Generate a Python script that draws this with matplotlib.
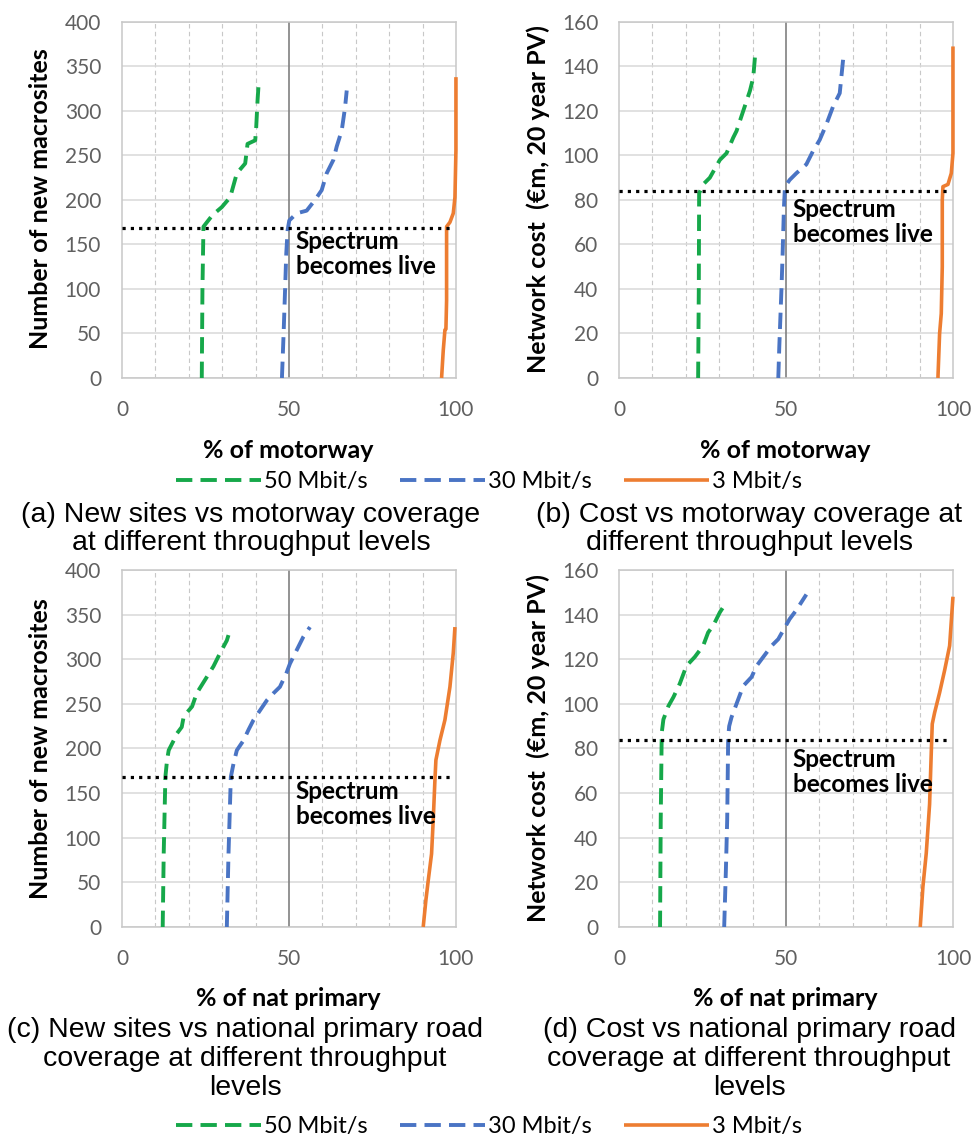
import matplotlib
matplotlib.use('Agg')
import matplotlib.pyplot as plt
from matplotlib.lines import Line2D

plt.rcParams['font.family'] = ['Lato', 'DejaVu Sans']

# (a) new macrosites vs % of motorway
a_50_x = [23.9, 24.1, 24.4, 27.1, 29.9, 32.4, 34.4, 36.9, 37.6, 39.9, 40.2, 40.6, 40.9]
a_50_y = [0, 100, 170, 183, 192, 203, 230, 241, 263, 267, 282, 312, 329]
a_30_x = [47.9, 48.4, 48.9, 49.2, 49.6, 50.1, 52.3, 55.3, 57.8, 59.8, 61.3, 63.3, 64.3, 65.8, 66.8, 67.3]
a_30_y = [0, 50, 106, 140, 166, 177, 185, 188, 200, 211, 230, 245, 260, 278, 304, 323]
a_3_x = [95.7, 96.2, 96.7, 97.0, 97.2, 97.2, 98.2, 99.2, 99.7, 100, 100]
a_3_y = [0, 31, 54, 55, 87, 170, 175, 185, 203, 256, 338]

# (b) network cost vs % of motorway
b_50_x = [23.7, 23.9, 24.0, 25.2, 27.2, 30.2, 32.2, 34.2, 35.2, 37.2, 39.2, 40.2, 40.7]
b_50_y = [0, 40, 83, 87, 90, 98, 101, 108, 111, 120, 129, 135, 144]
b_30_x = [47.7, 48.0, 48.7, 49.0, 49.4, 49.7, 51.1, 53.1, 56.1, 58.1, 60.1, 62.1, 64.1, 66.1, 66.9, 67.1]
b_30_y = [0, 14, 42, 56, 77, 86, 89, 92, 96, 102, 107, 114, 122, 128, 140, 143]
b_3_x = [95.5, 96.0, 96.5, 96.8, 96.8, 97.0, 98.5, 99.5, 100, 100]
b_3_y = [0, 20, 29, 50, 80, 86, 87, 92, 101, 149]

# (c) new macrosites vs % of national primary roads
c_50_x = [12.2, 12.5, 13.0, 13.5, 14.0, 15.5, 16.5, 17.9, 18.5, 21.0, 22.4, 24.9, 27.4, 29.4, 31.4, 31.9]
c_50_y = [0, 82, 168, 187, 198, 209, 217, 224, 236, 247, 262, 277, 292, 307, 321, 327]
c_30_x = [31.4, 31.9, 32.6, 33.4, 34.4, 36.4, 37.9, 39.4, 41.4, 43.4, 45.4, 47.3, 49.2, 50.3, 52.3, 54.3, 56.3]
c_30_y = [0, 82, 168, 183, 198, 209, 221, 232, 243, 254, 262, 269, 284, 295, 310, 325, 336]
c_3_x = [90.2, 91.0, 91.7, 92.7, 93.2, 93.7, 94.0, 95.2, 96.7, 98.2, 99.2, 99.7]
c_3_y = [0, 30, 52, 82, 120, 164, 187, 209, 232, 269, 307, 336]

# (d) network cost vs % of national primary roads
d_50_x = [12.3, 12.5, 12.8, 13.3, 14.8, 16.3, 18.2, 20.2, 22.7, 25.2, 26.7, 28.2, 30.2, 31.5]
d_50_y = [0, 48, 87, 93, 99, 103, 109, 117, 121, 126, 132, 135, 141, 144]
d_30_x = [31.5, 32.0, 32.4, 32.7, 33.0, 33.7, 35.2, 37.2, 39.7, 41.2, 43.2, 45.7, 47.7, 49.2, 51.1, 53.1, 56.1]
d_30_y = [0, 25, 48, 85, 90, 94, 100, 108, 112, 117, 121, 126, 129, 133, 138, 142, 149]
d_3_x = [90.2, 91.0, 92.0, 93.0, 93.5, 93.8, 94.5, 96.0, 97.5, 99.0, 100]
d_3_y = [0, 18, 33, 55, 78, 91, 96, 105, 115, 126, 148]

series_labels = ['50 Mbit/s', '30 Mbit/s', '3 Mbit/s']
sites_live = 168
cost_live = 84

GREEN = '#16a84a'
BLUE = '#4a74c4'
ORANGE = '#ed7d31'
styles = [dict(color=GREEN, lw=2.8, dashes=(4.2, 2.1)),
          dict(color=BLUE, lw=2.8, dashes=(4.2, 2.1)),
          dict(color=ORANGE, lw=2.6, solid_capstyle='butt')]


def panel(ax, data, ymax, ystep, live, text_y):
    ax.set_xlim(0, 100)
    ax.set_ylim(0, ymax)
    ax.set_xticks([0, 50, 100])
    ax.set_xticks(range(10, 100, 10), minor=True)
    ax.set_yticks(range(0, ymax + 1, ystep))
    ax.set_axisbelow(True)
    ax.grid(axis='y', color='#d9d9d9', lw=1.1)
    ax.grid(axis='x', which='minor', color='#c8c8c8', ls=(0, (4, 3)), lw=0.8)
    ax.axvline(50, color='#808080', lw=1.2, zorder=1)
    ax.tick_params(which='both', length=0, labelsize=15, labelcolor='#606060')
    ax.tick_params(axis='x', pad=16)
    ax.tick_params(axis='y', pad=15)
    for s in ax.spines.values():
        s.set_color('#c8c8c8')
        s.set_linewidth(1.1)
    for (x, y), st in zip(data, styles):
        ax.plot(x, y, clip_on=False, zorder=3, **st)
    ax.plot([0, 99.5], [live, live], color='black', lw=2.3, ls=(0, (1, 1.6)), zorder=4)
    ax.text(52, text_y, 'Spectrum\nbecomes live', fontsize=17.5, fontweight='bold',
            va='top', ha='left', linespacing=1.1, zorder=5)


fig = plt.figure(figsize=(9.78, 11.44), dpi=100)
ax_a = fig.add_axes([0.1247, 0.6696, 0.3415, 0.3112])
ax_b = fig.add_axes([0.6329, 0.6696, 0.3415, 0.3112])
ax_c = fig.add_axes([0.1247, 0.1897, 0.3415, 0.3121])
ax_d = fig.add_axes([0.6329, 0.1897, 0.3415, 0.3121])

panel(ax_a, [(a_50_x, a_50_y), (a_30_x, a_30_y), (a_3_x, a_3_y)], 400, 50, sites_live, 166)
panel(ax_b, [(b_50_x, b_50_y), (b_30_x, b_30_y), (b_3_x, b_3_y)], 160, 20, cost_live, 81)
panel(ax_c, [(c_50_x, c_50_y), (c_30_x, c_30_y), (c_3_x, c_3_y)], 400, 50, sites_live, 165)
panel(ax_d, [(d_50_x, d_50_y), (d_30_x, d_30_y), (d_3_x, d_3_y)], 160, 20, cost_live, 80)

# axis titles
lab = dict(fontsize=18, fontweight='bold', ha='center', va='center')
fig.text(0.0409, 0.826, 'Number of new macrosites', rotation=90, **lab)
fig.text(0.550, 0.826, 'Network cost  (€m, 20 year PV)', rotation=90, **lab)
fig.text(0.0409, 0.346, 'Number of new macrosites', rotation=90, **lab)
fig.text(0.550, 0.346, 'Network cost  (€m, 20 year PV)', rotation=90, **lab)
fig.text(0.295, 0.6066, '% of motorway', **lab)
fig.text(0.803, 0.6066, '% of motorway', **lab)
fig.text(0.295, 0.1276, '% of nat primary', **lab)
fig.text(0.803, 0.1276, '% of nat primary', **lab)

# captions
cap = dict(fontsize=20.5, family='Liberation Sans', ha='center', va='center',
           multialignment='center', linespacing=1.14)
fig.text(0.2566, 0.5376, '(a) New sites vs motorway coverage\nat different throughput levels', **cap)
fig.text(0.766, 0.5376, '(b) Cost vs motorway coverage at\ndifferent throughput levels', **cap)
fig.text(0.2505, 0.0743, '(c) New sites vs national primary road\ncoverage at different throughput\nlevels', **cap)
fig.text(0.766, 0.0743, '(d) Cost vs national primary road\ncoverage at different throughput\nlevels', **cap)

# legends
handles = [Line2D([], [], **st) for st in styles]
for ypos in (0.5787, 0.0149):
    fig.legend(handles, series_labels, loc='center', bbox_to_anchor=(0.50, ypos),
               ncol=3, frameon=False, fontsize=17, handlelength=3.6,
               handletextpad=0.1, columnspacing=1.4, borderaxespad=0)

fig.savefig('out.png', dpi=100)
